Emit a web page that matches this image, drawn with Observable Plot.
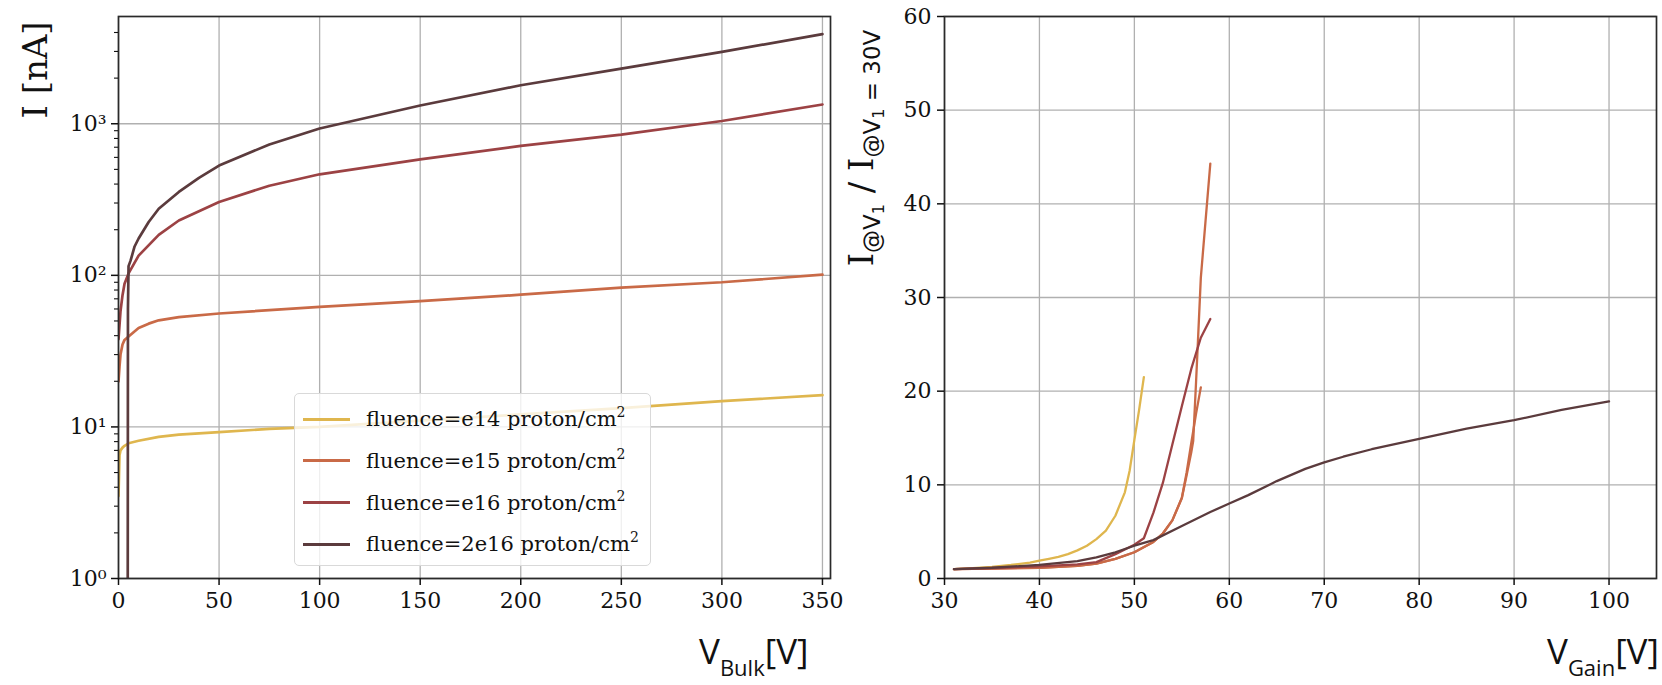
<!DOCTYPE html>
<html>
<head>
<meta charset="utf-8">
<script src="https://cdn.jsdelivr.net/npm/d3@7"></script>
<script src="https://cdn.jsdelivr.net/npm/@observablehq/plot@0.6"></script>
<style>
  body { margin: 0; background: #fff; }
  #fig { position: relative; width: 1662px; height: 685px; overflow: hidden; background: #fff; }
  .panel { position: absolute; top: 0; }
  .legend {
    position: absolute; left: 294px; top: 393px; width: 357px; height: 173px;
    box-sizing: border-box; border: 1.3px solid #d9d9d9; border-radius: 5px;
    background: rgba(255,255,255,0.8); font-family: "DejaVu Serif", serif; font-size: 21px; color: #111;
  }
  .legend .row { position: absolute; left: 0; height: 30px; display: flex; align-items: center; white-space: nowrap; }
  .legend .swatch { width: 47px; height: 3px; margin-left: 8px; margin-right: 16px; }
  .legend sup { font-size: 14px; vertical-align: 9px; line-height: 0; }
</style>
</head>
<body>
<div id="fig"></div>
<script>
// ---- series labels and colours ----
const fluences = ["e14", "e15", "e16", "2e16"];
const fluenceColors = ["#dfb64e", "#c96a47", "#9c4244", "#5b3b3d"];

// ---- left panel: I–V curves (bias voltage [V], current [nA]) ----
const vE14 = [0, 0.5, 1, 2, 3, 5, 10, 20, 30, 50, 75, 100, 150, 200, 250, 300, 350];
const iE14 = [3.5, 6.5, 7.0, 7.3, 7.5, 7.8, 8.1, 8.6, 8.9, 9.25, 9.7, 10.0, 11.0, 12.1, 13.3, 14.8, 16.2];

const vE15 = [0, 0.5, 1, 2, 3, 5, 10, 15, 20, 30, 50, 100, 150, 200, 250, 300, 350];
const iE15 = [20, 25, 30, 35, 37.5, 39.5, 45, 48, 50.5, 53, 56, 62, 67.5, 74.5, 83, 90, 101];

const vE16 = [0, 1, 2, 3, 5, 10, 20, 30, 50, 75, 100, 150, 200, 250, 300, 350];
const iE16 = [38, 58, 74, 88, 103, 135, 185, 230, 305, 390, 464, 582, 714, 848, 1043, 1340];

const v2E16 = [4.6, 4.7, 5, 6, 8, 10, 15, 20, 30, 40, 50, 75, 100, 150, 200, 250, 300, 350];
const i2E16 = [1, 60, 115, 125, 155, 175, 225, 275, 355, 440, 530, 730, 930, 1320, 1795, 2313, 2978, 3900];

// ---- right panel: current ratio vs gain-layer voltage ----
const gE14 = [31, 33, 35, 37, 39, 40, 41, 42, 43, 44, 45, 46, 47, 48, 49, 49.5, 50, 50.5, 51];
const rE14 = [1.0, 1.1, 1.25, 1.45, 1.7, 1.9, 2.1, 2.3, 2.6, 3.0, 3.5, 4.2, 5.1, 6.7, 9.2, 11.5, 14.8, 18.0, 21.5];

const gE15a = [31, 35, 40, 44, 46, 48, 50, 52, 53, 54, 55, 55.5, 56, 56.2, 56.5, 56.7, 57, 57.5, 58];
const rE15a = [1.0, 1.05, 1.15, 1.35, 1.6, 2.1, 2.8, 3.9, 4.8, 6.2, 8.6, 11, 13.5, 14.7, 21, 25.4, 32.1, 38.2, 44.3];

const gE15b = [31, 35, 40, 44, 46, 48, 50, 52, 53, 54, 55, 55.5, 56, 56.5, 57];
const rE15b = [1.0, 1.05, 1.15, 1.35, 1.6, 2.1, 2.8, 3.9, 4.8, 6.2, 8.6, 11.3, 14.5, 17.6, 20.4];

const gE16 = [31, 36, 40, 44, 46, 48, 50, 51, 52, 53, 54, 55, 56, 57, 58];
const rE16 = [1.0, 1.15, 1.3, 1.5, 1.75, 2.6, 3.6, 4.3, 7.0, 10.2, 14.3, 18.4, 22.4, 25.7, 27.7];

const g2E16 = [31, 35, 40, 44, 46, 48, 50, 52, 55, 58, 60, 62, 65, 68, 70, 72, 75, 80, 85, 90, 95, 100];
const r2E16 = [1.0, 1.15, 1.45, 1.85, 2.25, 2.8, 3.5, 4.1, 5.6, 7.1, 8.0, 8.9, 10.4, 11.7, 12.4, 13.0, 13.8, 14.9, 16.0, 16.9, 18.0, 18.9];

// ---- ticks ----
const bulkTicks = [0, 50, 100, 150, 200, 250, 300, 350];
const currentTicks = [1, 10, 100, 1000];
const currentMinorTicks = [2,3,4,5,6,7,8,9, 20,30,40,50,60,70,80,90, 200,300,400,500,600,700,800,900, 2000,3000,4000];
const gainTicks = [30, 40, 50, 60, 70, 80, 90, 100];
const ratioTicks = [0, 10, 20, 30, 40, 50, 60];
const legendLabels = ["fluence=e14 proton/cm", "fluence=e15 proton/cm", "fluence=e16 proton/cm", "fluence=2e16 proton/cm"];

// ---- build tidy rows ----
function rows(xs, ys, fluence, run) {
  return xs.map((x, i) => ({x, y: ys[i], fluence, run: run || fluence}));
}
const bulkData = [
  ...rows(vE14, iE14, "e14"), ...rows(vE15, iE15, "e15"),
  ...rows(vE16, iE16, "e16"), ...rows(v2E16, i2E16, "2e16")
];
const gainData = [
  ...rows(gE14, rE14, "e14"), ...rows(gE15a, rE15a, "e15", "e15a"), ...rows(gE15b, rE15b, "e15", "e15b"),
  ...rows(gE16, rE16, "e16"), ...rows(g2E16, r2E16, "2e16")
];

const supDigits = ["⁰", "¹", "²", "³", "⁴"];
const tickFont = {fontFamily: "DejaVu Serif", fontSize: "22px", color: "#111", background: "transparent", overflow: "visible"};
const gridStyle = {stroke: "#b0b0b0", strokeWidth: 1.3, strokeOpacity: 1};
const frameStyle = {stroke: "#2a2a2a", strokeWidth: 1.7};
const colorScale = {domain: fluences, range: fluenceColors};

// ---- left panel ----
const left = Plot.plot({
  width: 830, height: 685,
  marginLeft: 118, marginRight: 0, marginTop: 16, marginBottom: 107,
  style: tickFont,
  x: {domain: [0, 354]},
  y: {type: "log", domain: [1, 5100]},
  color: colorScale,
  marks: [
    Plot.gridX(bulkTicks, gridStyle),
    Plot.gridY(currentTicks, gridStyle),
    Plot.line(bulkData, {x: "x", y: "y", z: "run", stroke: "fluence", strokeWidth: 2.7, clip: true}),
    Plot.frame(frameStyle),
    Plot.axisX({ticks: bulkTicks, tickSize: 7, tickPadding: 7, strokeWidth: 1.5, label: null}),
    Plot.axisY({ticks: currentTicks, tickSize: 7, tickPadding: 5, strokeWidth: 1.5, label: null,
      tickFormat: d => "10" + supDigits[Math.round(Math.log10(d))]}),
    Plot.axisY({ticks: currentMinorTicks, tickSize: 4, strokeWidth: 1.1, tickFormat: () => "", label: null})
  ]
});

// ---- right panel ----
const right = Plot.plot({
  width: 832, height: 685,
  marginLeft: 114, marginRight: 6, marginTop: 16, marginBottom: 107,
  style: tickFont,
  x: {domain: [30, 105]},
  y: {domain: [0, 60]},
  color: colorScale,
  marks: [
    Plot.gridX(gainTicks, gridStyle),
    Plot.gridY(ratioTicks, gridStyle),
    Plot.line(gainData, {x: "x", y: "y", z: "run", stroke: "fluence", strokeWidth: 2.3, clip: true}),
    Plot.frame(frameStyle),
    Plot.axisX({ticks: gainTicks, tickSize: 7, tickPadding: 7, strokeWidth: 1.5, label: null}),
    Plot.axisY({ticks: ratioTicks, tickSize: 7, tickPadding: 6, strokeWidth: 1.5, label: null})
  ]
});

const fig = document.getElementById("fig");
left.classList.add("panel"); left.style.left = "0px";
right.classList.add("panel"); right.style.left = "830px";
fig.append(left, right);

// axis titles with sub/superscripts
function addText(svg, x, y, rotate, anchor, parts) {
  const t = d3.select(svg).append("text")
    .attr("transform", `translate(${x},${y})` + (rotate ? ` rotate(${rotate})` : ""))
    .attr("text-anchor", anchor).attr("fill", "#111");
  for (const p of parts) {
    t.append("tspan").attr("font-family", p.font).attr("font-size", p.size).attr("dy", p.dy || 0)
      .style("white-space", "pre").text(p.text);
  }
}
const sans = "'Open Sans', 'Noto Sans', sans-serif";
const msans = "'DejaVu Sans', sans-serif";
const serif = "'DejaVu Serif', serif";

addText(left, 47, 70, -90, "middle", [{text: "I [nA]", font: serif, size: 34}]);
addText(left, 699, 664, 0, "start", [
  {text: "V", font: sans, size: 35},
  {text: "Bulk", font: sans, size: 22, dy: 12},
  {text: "[V]", font: sans, size: 35, dy: -12}
]);

addText(right, 43, 148, -90, "middle", [
  {text: "I", font: serif, size: 34},
  {text: "@V", font: msans, size: 23, dy: 7},
  {text: "1", font: msans, size: 16, dy: 4},
  {text: " / I", font: serif, size: 34, dy: -11},
  {text: "@V", font: msans, size: 23, dy: 7},
  {text: "1", font: msans, size: 16, dy: 4},
  {text: " = 30V", font: msans, size: 23, dy: -4}
]);
addText(right, 717, 664, 0, "start", [
  {text: "V", font: sans, size: 35},
  {text: "Gain", font: sans, size: 22, dy: 12},
  {text: "[V]", font: sans, size: 35, dy: -12}
]);

// legend for the left panel
const legend = document.createElement("div");
legend.className = "legend";
legendLabels.forEach((label, k) => {
  const row = document.createElement("div");
  row.className = "row";
  row.style.top = (10 + k * 41.8) + "px";
  const sw = document.createElement("div");
  sw.className = "swatch";
  sw.style.background = fluenceColors[k];
  const tx = document.createElement("span");
  tx.innerHTML = label + "<sup>2</sup>";
  row.append(sw, tx);
  legend.append(row);
});
fig.append(legend);
</script>
</body>
</html>
